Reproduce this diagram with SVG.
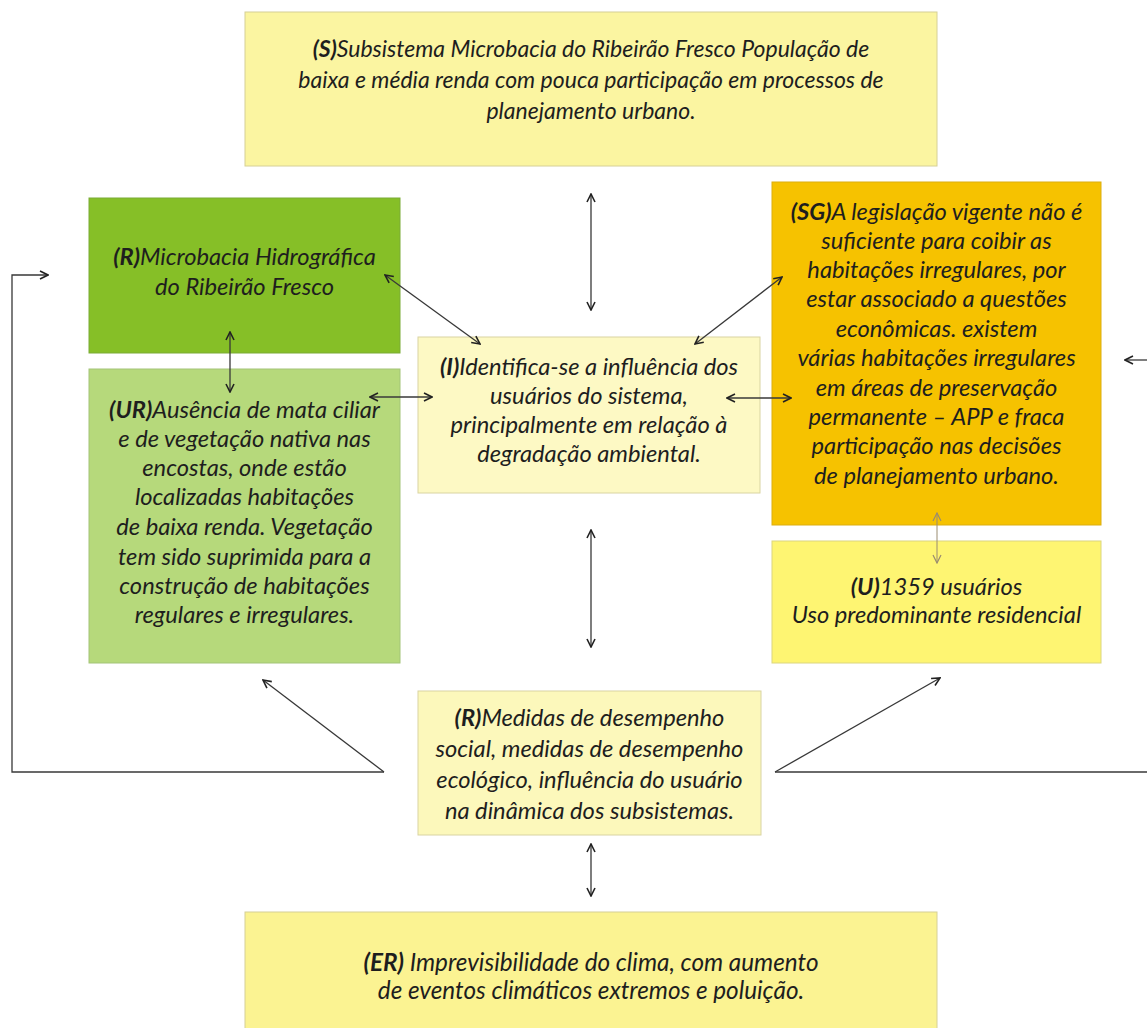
<svg xmlns="http://www.w3.org/2000/svg" width="1147" height="1028" viewBox="0 0 1147 1028">
<style>
.t{font-family:Lato,"Open Sans","Liberation Sans",sans-serif;font-style:italic;font-size:23.7px;fill:#1e1e1e;text-anchor:middle}
.s{font-size:23px}
.e{font-size:24.3px}
.b{font-weight:bold}
.box{stroke-width:1}
.c{fill:none;stroke:#383838;stroke-width:1.3}
.cl{fill:none;stroke:#9a8c70;stroke-width:1}
</style>
<defs>
<marker id="ah" viewBox="0 0 10 10" refX="9" refY="5" markerWidth="10" markerHeight="10" markerUnits="userSpaceOnUse" orient="auto-start-reverse">
<path d="M1,1 L9,5 L1,9" fill="none" stroke="#222" stroke-width="1.6"/>
</marker>
<marker id="ahl" viewBox="0 0 10 10" refX="9" refY="5" markerWidth="10" markerHeight="10" markerUnits="userSpaceOnUse" orient="auto-start-reverse">
<path d="M1,1 L9,5 L1,9" fill="none" stroke="#9a8c70" stroke-width="1.2"/>
</marker>
</defs>
<rect width="1147" height="1028" fill="#ffffff"/>

<g id="node-S">
<rect class="box" x="245" y="12" width="692" height="154" fill="#fbf5a1" stroke="#d6d096"/>
<text class="t s" x="591"><tspan x="591" y="57"><tspan class="b">(S)</tspan>Subsistema Microbacia do Ribeirão Fresco População de</tspan><tspan x="591" y="88">baixa e média renda com pouca participação em processos de</tspan><tspan x="591" y="119">planejamento urbano.</tspan></text>
</g>

<g id="node-R">
<rect class="box" x="89" y="198" width="311" height="155" fill="#86bf27" stroke="#7aab36"/>
<text class="t" x="244.5"><tspan x="244.5" y="265"><tspan class="b">(R)</tspan>Microbacia Hidrográfica</tspan><tspan x="244.5" y="295">do Ribeirão Fresco</tspan></text>
</g>

<g id="node-UR">
<rect class="box" x="89" y="369" width="311" height="294" fill="#b6d97b" stroke="#a3c479"/>
<text class="t" x="244.5"><tspan x="244.5" y="418"><tspan class="b">(UR)</tspan>Ausência de mata ciliar</tspan><tspan x="244.5" y="447">e de vegetação nativa nas</tspan><tspan x="244.5" y="476">encostas, onde estão</tspan><tspan x="244.5" y="505">localizadas habitações</tspan><tspan x="244.5" y="535">de baixa renda. Vegetação</tspan><tspan x="244.5" y="565">tem sido suprimida para a</tspan><tspan x="244.5" y="594">construção de habitações</tspan><tspan x="244.5" y="623">regulares e irregulares.</tspan></text>
</g>

<g id="node-I">
<rect class="box" x="418" y="337" width="342" height="156" fill="#fdf9c4" stroke="#d9d4a2"/>
<text class="t" x="589"><tspan x="589" y="375"><tspan class="b">(I)</tspan>Identifica-se a influência dos</tspan><tspan x="589" y="404">usuários do sistema,</tspan><tspan x="589" y="433">principalmente em relação à</tspan><tspan x="589" y="462">degradação ambiental.</tspan></text>
</g>

<g id="node-SG">
<rect class="box" x="772" y="182" width="329" height="343" fill="#f6c200" stroke="#dcae10"/>
<text class="t" x="936.5"><tspan x="936.5" y="220"><tspan class="b">(SG)</tspan>A legislação vigente não é</tspan><tspan x="936.5" y="249">suficiente para coibir as</tspan><tspan x="936.5" y="278">habitações irregulares, por</tspan><tspan x="936.5" y="307">estar associado a questões</tspan><tspan x="936.5" y="337">econômicas. existem</tspan><tspan x="936.5" y="366">várias habitações irregulares</tspan><tspan x="936.5" y="396">em áreas de preservação</tspan><tspan x="936.5" y="425">permanente – APP e fraca</tspan><tspan x="936.5" y="454">participação nas decisões</tspan><tspan x="936.5" y="484">de planejamento urbano.</tspan></text>
</g>

<g id="node-U">
<rect class="box" x="772" y="541" width="329" height="122" fill="#fef572" stroke="#dcd67e"/>
<text class="t" x="936.5"><tspan x="936.5" y="595"><tspan class="b">(U)</tspan>1359 usuários</tspan><tspan x="936.5" y="623">Uso predominante residencial</tspan></text>
</g>

<g id="node-R2">
<rect class="box" x="418" y="691" width="343" height="144" fill="#fcf8bb" stroke="#d9d4a2"/>
<text class="t" x="589.5"><tspan x="589.5" y="726"><tspan class="b">(R)</tspan>Medidas de desempenho</tspan><tspan x="589.5" y="757">social, medidas de desempenho</tspan><tspan x="589.5" y="788">ecológico, influência do usuário</tspan><tspan x="589.5" y="819">na dinâmica dos subsistemas.</tspan></text>
</g>

<g id="node-ER">
<rect class="box" x="245" y="912" width="692" height="130" fill="#fbf392" stroke="#d6d096"/>
<text class="t e" x="591"><tspan x="591" y="971"><tspan class="b">(ER)</tspan> Imprevisibilidade do clima, com aumento</tspan><tspan x="591" y="999">de eventos climáticos extremos e poluição.</tspan></text>
</g>

<g id="connectors">
<line class="c" x1="591" y1="194" x2="591" y2="310" marker-start="url(#ah)" marker-end="url(#ah)"/>
<line class="c" x1="591" y1="530" x2="591" y2="647" marker-start="url(#ah)" marker-end="url(#ah)"/>
<line class="c" x1="591" y1="844" x2="591" y2="896" marker-start="url(#ah)" marker-end="url(#ah)"/>
<line class="c" x1="385" y1="275" x2="480" y2="344" marker-start="url(#ah)" marker-end="url(#ah)"/>
<line class="c" x1="782" y1="277" x2="695" y2="344" marker-start="url(#ah)" marker-end="url(#ah)"/>
<line class="c" x1="370" y1="397" x2="432" y2="397" marker-start="url(#ah)" marker-end="url(#ah)"/>
<line class="c" x1="727" y1="398" x2="791" y2="398" marker-start="url(#ah)" marker-end="url(#ah)"/>
<line class="c" x1="230" y1="332" x2="230" y2="392" marker-start="url(#ah)" marker-end="url(#ah)"/>
<line class="cl" x1="937" y1="513" x2="937" y2="563" marker-start="url(#ahl)" marker-end="url(#ahl)"/>
<polyline class="c" points="384,772 12,772 12,275 48,275" marker-end="url(#ah)"/>
<line class="c" x1="384" y1="772" x2="263" y2="680" marker-end="url(#ah)"/>
<line class="c" x1="775" y1="772" x2="940" y2="678" marker-end="url(#ah)"/>
<line class="c" x1="775" y1="772" x2="1148" y2="772"/>
<line class="c" x1="1148" y1="360" x2="1125" y2="360" marker-end="url(#ah)"/>
</g>
</svg>
